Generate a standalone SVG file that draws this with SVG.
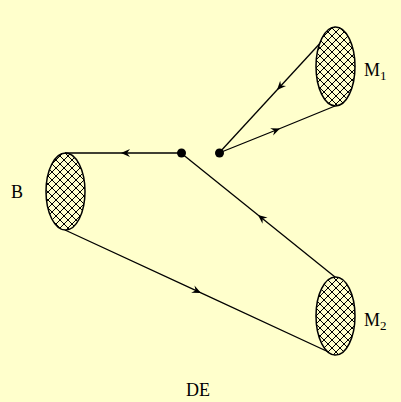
<svg xmlns="http://www.w3.org/2000/svg" width="401" height="402" viewBox="0 0 401 402">
<style>
.ln{fill:none;stroke:#000;stroke-width:1.3}
.blob{fill:url(#hatch);stroke:#000;stroke-width:1.5}
.lbl{font-family:"Liberation Serif",serif;font-size:18px;fill:#000}
.sub{font-size:13px}
</style>
<defs>
<pattern id="hatch" width="8" height="8" patternUnits="userSpaceOnUse">
<rect width="8" height="8" fill="#FFFFCC"/>
<path d="M0,0 L8,8 M-1,7 L1,9 M7,-1 L9,1 M8,0 L0,8 M-1,1 L1,-1 M7,9 L9,7" stroke="#000" stroke-width="1"/>
</pattern>
<marker id="arr" markerUnits="userSpaceOnUse" markerWidth="12" markerHeight="10" viewBox="-10 -5 12 10" refX="0" refY="0" orient="auto">
<path d="M0,0 L-9,-4 L-6,0 L-9,4 Z" fill="#000"/>
</marker>
</defs>
<rect width="401" height="402" fill="#FFFFCC"/>
<g id="connectors">
<path class="ln" d="M181,153 L121,153 L65,153" marker-mid="url(#arr)"/>
<path class="ln" d="M335,277 L258,215 L181,153" marker-mid="url(#arr)"/>
<path class="ln" d="M65,230 L201,292.9 L335,355" marker-mid="url(#arr)"/>
<path class="ln" d="M335,27 L277,90 L219,153" marker-mid="url(#arr)"/>
<path class="ln" d="M219,153 L280,128.5 L335,106" marker-mid="url(#arr)"/>
</g>
<g id="B"><ellipse class="blob" cx="65.5" cy="191.5" rx="19.5" ry="38.5"/><text class="lbl" x="11" y="198">B</text></g>
<g id="M1"><ellipse class="blob" cx="335.5" cy="66.5" rx="19.5" ry="39.5"/><text class="lbl" x="364" y="76">M<tspan class="sub" dy="4">1</tspan></text></g>
<g id="M2"><ellipse class="blob" cx="335.5" cy="316" rx="19.5" ry="39"/><text class="lbl" x="364" y="326">M<tspan class="sub" dy="4">2</tspan></text></g>
<g id="v1"><circle cx="181.5" cy="153" r="4.5"/></g>
<g id="v2"><circle cx="219.5" cy="153" r="4.5"/></g>
<text class="lbl" x="186" y="396">DE</text>
</svg>
